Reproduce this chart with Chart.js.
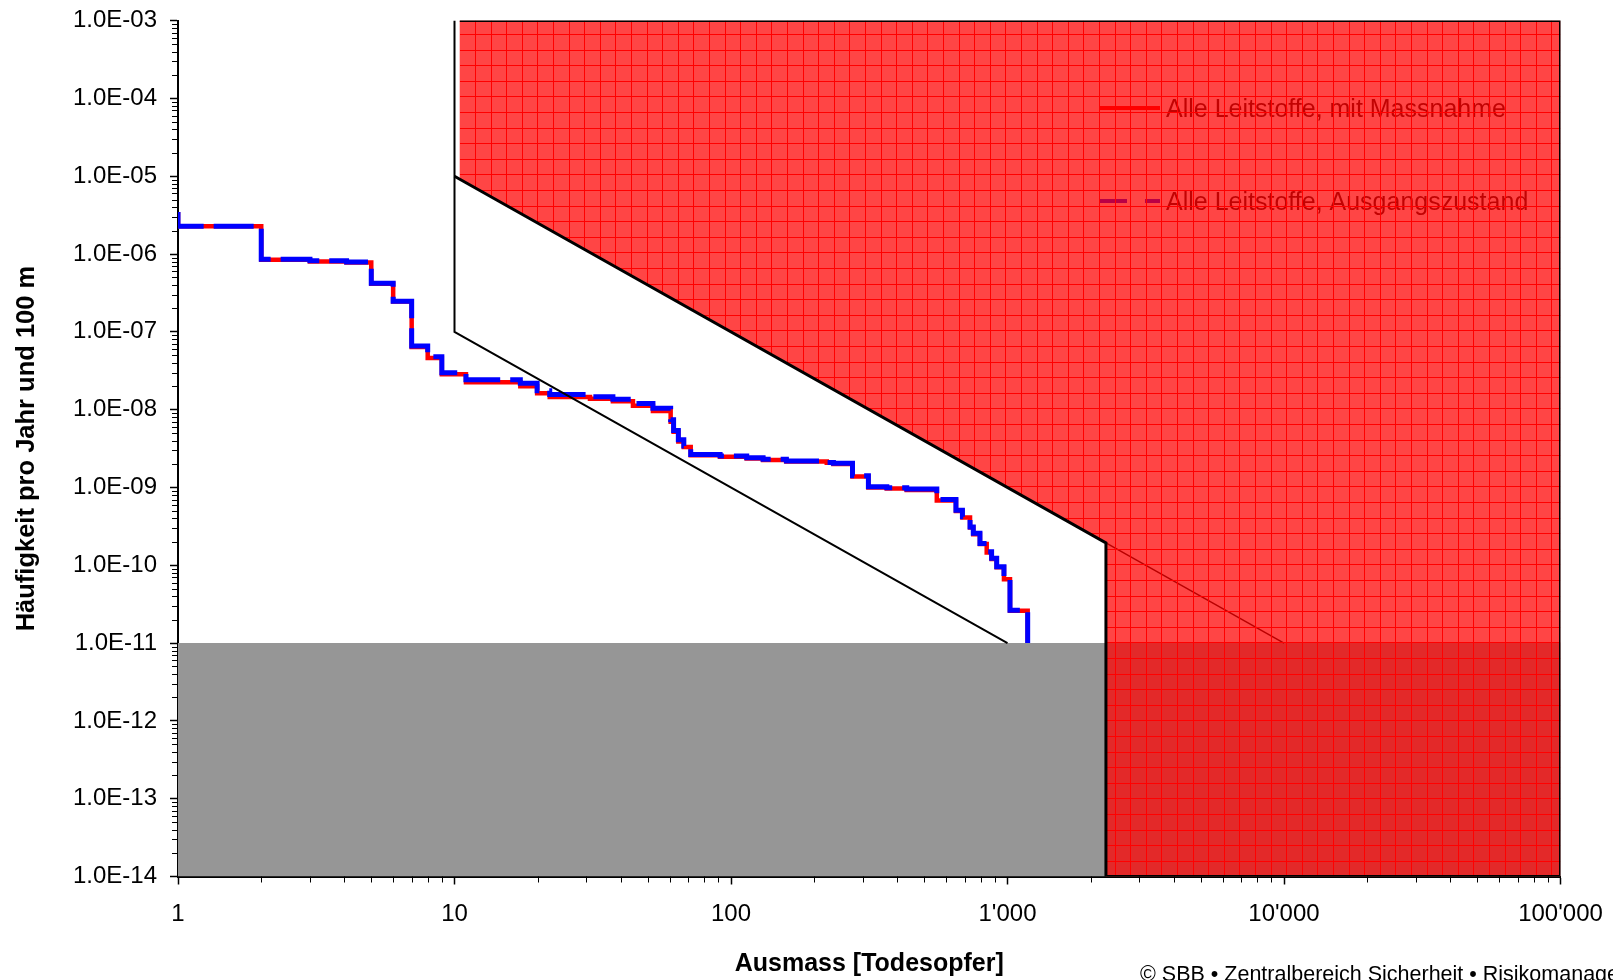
<!DOCTYPE html>
<html>
<head>
<meta charset="utf-8">
<script src="https://cdn.jsdelivr.net/npm/chart.js@4/dist/chart.umd.min.js"></script>
<style>
html,body{margin:0;padding:0;background:#fff;}
canvas{display:block;}
</style>
</head>
<body>
<canvas id="c" width="1613" height="980"></canvas>
<script>
// ---------- data ----------
const xTickValues = [1, 10, 100, 1000, 10000, 100000];
const xTickLabels = ['1', '10', '100', "1'000", "10'000", "100'000"];
const yTickValues = [1e-14, 1e-13, 1e-12, 1e-11, 1e-10, 1e-9, 1e-8, 1e-7, 1e-6, 1e-5, 1e-4, 1e-3];
const yTickLabels = ['1.0E-14', '1.0E-13', '1.0E-12', '1.0E-11', '1.0E-10', '1.0E-09', '1.0E-08', '1.0E-07', '1.0E-06', '1.0E-05', '1.0E-04', '1.0E-03'];

// Ausgangszustand (blue, dashed)
const baseN = [1, 1, 2, 3, 4.07, 5, 6, 7, 8, 9, 11, 17.3, 19.9, 22.1, 30.9, 37.4, 44.2, 52.2, 60.5, 62, 64.5, 67.5, 71.5, 91.3, 114, 130.6, 158.6, 222, 234.6, 275, 314, 366, 432, 555, 651, 687, 732, 752, 795, 841, 876, 914, 971, 1021, 1183];
const baseF = [3.47e-6, 2.27e-6, 8.55e-7, 8.2e-7, 7.9e-7, 4.2e-7, 2.47e-7, 6.6e-8, 4.8e-8, 2.98e-8, 2.42e-8, 2.18e-8, 1.75e-8, 1.57e-8, 1.47e-8, 1.36e-8, 1.2e-8, 1.04e-8, 7.4e-9, 5.4e-9, 4.1e-9, 3.4e-9, 2.66e-9, 2.53e-9, 2.41e-9, 2.3e-9, 2.19e-9, 2.1e-9, 2.04e-9, 1.41e-9, 1.02e-9, 9.9e-10, 9.55e-10, 7.0e-10, 5.1e-10, 4.2e-10, 3.1e-10, 2.57e-10, 1.91e-10, 1.49e-10, 1.23e-10, 9.6e-11, 6.8e-11, 2.65e-11, 1e-12];

// mit Massnahme (red, solid)
const measN = [1, 1, 2, 3, 4.07, 5, 6, 7, 8, 9, 11, 17.3, 19.9, 22.1, 30.9, 37.4, 44.2, 52.2, 60.5, 62, 64.5, 67.5, 71.5, 91.3, 114, 130.6, 158.6, 222, 234.6, 275, 314, 366, 432, 555, 651, 687, 732, 752, 795, 841, 876, 914, 971, 1021, 1183];
const measF = [3.47e-6, 2.27e-6, 8.45e-7, 8.0e-7, 7.8e-7, 4.15e-7, 2.45e-7, 6.4e-8, 4.6e-8, 2.85e-8, 2.25e-8, 2.0e-8, 1.62e-8, 1.45e-8, 1.38e-8, 1.28e-8, 1.12e-8, 9.6e-9, 7.0e-9, 5.2e-9, 3.9e-9, 3.3e-9, 2.6e-9, 2.48e-9, 2.36e-9, 2.25e-9, 2.15e-9, 2.07e-9, 2.0e-9, 1.38e-9, 1.0e-9, 9.7e-10, 9.3e-10, 6.8e-10, 5.0e-10, 4.1e-10, 3.05e-10, 2.5e-10, 1.87e-10, 1.46e-10, 1.2e-10, 9.4e-11, 6.6e-11, 2.6e-11, 1e-12];

// Criterion lines / areas
const unacceptN = [10.45, 100000, 100000, 2270, 2270, 10.45];
const unacceptF = [1e-3, 1e-3, 1e-14, 1e-14, 1.94e-10, 9.16e-6];
const unacceptEdgeN = [10.45, 100000, 100000, 2270, 2270, 10];
const unacceptEdgeF = [1e-3, 1e-3, 1e-14, 1e-14, 1.94e-10, 1e-5];
const upperExtN = [2270, 10000];
const upperExtF = [1.94e-10, 1e-11];
const lowerN = [10, 10, 1000];
const lowerF = [1e-3, 1e-7, 1e-11];
const negligibleN = [1, 100000, 100000, 1];
const negligibleF = [1e-11, 1e-11, 1e-14, 1e-14];

const seriesNames = ['Alle Leitstoffe, mit Massnahme', 'Alle Leitstoffe, Ausgangszustand'];
const xTitle = 'Ausmass [Todesopfer]';
const yTitle = 'Häufigkeit pro Jahr und 100 m';
const footer = '© SBB • Zentralbereich Sicherheit • Risikomanagement';

const pts = (xs, ys) => xs.map((x, i) => ({x: x, y: ys[i]}));
const FONT = "'Liberation Sans', Arial, sans-serif";

// ---------- hatch pattern ----------
const canvas = document.getElementById('c');
const ctx0 = canvas.getContext('2d');
function makePattern() {
  const size = 78, step = 15.6;
  const t = document.createElement('canvas');
  t.width = size; t.height = size;
  const g = t.getContext('2d');
  g.fillStyle = 'rgba(255,0,0,0.73)';
  g.fillRect(0, 0, size, size);
  g.fillStyle = 'rgb(255,0,0)';
  for (let k = 0; k < 5; k++) {
    const px = Math.round((7 + k * step) % size);
    const py = Math.round((34 + k * step) % size);
    g.fillRect(px, 0, 1, size);
    g.fillRect(0, py, size, 1);
  }
  return ctx0.createPattern(t, 'repeat');
}
const hatch = makePattern();

// ---------- plugins ----------
const legendUnder = {
  id: 'legendUnder',
  beforeDatasetsDraw(chart) {
    const c = chart.ctx;
    c.save();
    c.lineCap = 'butt';
    c.lineWidth = 4;
    c.strokeStyle = 'rgb(255,0,0)';
    c.beginPath(); c.moveTo(1099, 108); c.lineTo(1160, 108); c.stroke();
    c.strokeStyle = 'rgb(0,0,255)';
    c.setLineDash([28, 18]);
    c.beginPath(); c.moveTo(1099, 201); c.lineTo(1160, 201); c.stroke();
    c.setLineDash([]);
    c.fillStyle = 'rgb(30,10,10)';
    c.font = '25px ' + FONT;
    c.textBaseline = 'alphabetic';
    c.textAlign = 'left';
    c.fillText(seriesNames[0], 1166, 117);
    c.fillText(seriesNames[1], 1166, 210);
    c.restore();
  }
};

const minorTicks = {
  id: 'minorTicks',
  afterDraw(chart) {
    const c = chart.ctx;
    const xs = chart.scales.x, ys = chart.scales.y;
    c.save();
    c.strokeStyle = '#000';
    c.lineWidth = 1;
    c.beginPath();
    for (let e = 0; e < 5; e++) {
      for (let m = 2; m <= 9; m++) {
        const px = Math.round(xs.getPixelForValue(m * Math.pow(10, e))) + 0.5;
        c.moveTo(px, ys.bottom); c.lineTo(px, ys.bottom + 6);
      }
    }
    for (let e = -14; e < -3; e++) {
      for (let m = 2; m <= 9; m++) {
        const py = Math.round(ys.getPixelForValue(m * Math.pow(10, e))) + 0.5;
        c.moveTo(xs.left - 6, py); c.lineTo(xs.left, py);
      }
    }
    c.stroke();
    c.fillStyle = '#000';
    c.font = '21.5px ' + FONT;
    c.textAlign = 'left';
    c.textBaseline = 'alphabetic';
    c.fillText(footer, 1140, 981);
    c.restore();
  }
};

// ---------- chart ----------
const lineBase = {pointRadius: 0, pointHoverRadius: 0, tension: 0, fill: false};

new Chart(canvas, {
  type: 'line',
  data: {
    datasets: [
      Object.assign({}, lineBase, {label: 'lower', data: pts(lowerN, lowerF), borderColor: '#000', borderWidth: 2}),
      Object.assign({}, lineBase, {label: 'edge', data: pts(unacceptEdgeN, unacceptEdgeF), borderColor: '#000', borderWidth: 3, borderJoinStyle: 'miter'}),
      Object.assign({}, lineBase, {label: 'unaccept', data: pts(unacceptN, unacceptF), borderWidth: 0, borderColor: 'rgba(0,0,0,0)', backgroundColor: hatch, fill: 'shape'}),
      Object.assign({}, lineBase, {label: 'ext', data: pts(upperExtN, upperExtF), borderColor: '#000', borderWidth: 1.5}),
      Object.assign({}, lineBase, {label: 'negligible', data: pts(negligibleN, negligibleF), borderWidth: 0, borderColor: 'rgba(0,0,0,0)', backgroundColor: '#969696', fill: 'shape'}),
      Object.assign({}, lineBase, {label: seriesNames[1], data: pts(baseN, baseF), borderColor: 'rgb(0,0,255)', borderWidth: 5, borderDash: [40, 10], stepped: 'before', borderJoinStyle: 'miter'}),
      Object.assign({}, lineBase, {label: seriesNames[0], data: pts(measN, measF), borderColor: 'rgb(255,0,0)', borderWidth: 4.5, stepped: 'before', borderJoinStyle: 'miter'})
    ]
  },
  options: {
    responsive: false,
    devicePixelRatio: 1,
    animation: false,
    events: [],
    layout: {autoPadding: false, padding: {left: 0, right: 52.5, top: 20.6, bottom: 0}},
    plugins: {legend: {display: false}, tooltip: {enabled: false}},
    scales: {
      x: {
        type: 'logarithmic',
        position: 'bottom',
        min: 1, max: 100000,
        afterBuildTicks(scale) { scale.ticks = xTickValues.map(v => ({value: v})); },
        afterFit(scale) { scale.height = 103.5; scale.paddingLeft = 0; scale.paddingRight = 0; },
        ticks: {
          autoSkip: false, maxRotation: 0, padding: 15, color: '#000',
          font: {family: FONT, size: 24},
          callback: (v, i) => xTickLabels[i]
        },
        grid: {drawOnChartArea: false, drawTicks: true, tickLength: 8, tickColor: '#000', tickWidth: 1.5},
        border: {display: true, color: '#000', width: 2},
        title: {display: true, text: xTitle, color: '#000', font: {family: FONT, size: 25, weight: 'bold'}, padding: {top: 0, bottom: 1}}
      },
      y: {
        type: 'logarithmic',
        position: 'left',
        min: 1e-14, max: 1e-3,
        afterBuildTicks(scale) { scale.ticks = yTickValues.map(v => ({value: v})); },
        afterFit(scale) { scale.width = 178; scale.paddingTop = 0; scale.paddingBottom = 0; },
        ticks: {
          autoSkip: false, padding: 13, color: '#000',
          font: {family: FONT, size: 24},
          callback: (v, i) => yTickLabels[i]
        },
        grid: {drawOnChartArea: false, drawTicks: true, tickLength: 8, tickColor: '#000', tickWidth: 1.5},
        border: {display: true, color: '#000', width: 2},
        title: {display: true, text: yTitle, color: '#000', font: {family: FONT, size: 25.5, weight: 'bold'}, padding: {top: 12, bottom: 0}}
      }
    }
  },
  plugins: [legendUnder, minorTicks]
});
</script>
</body>
</html>
